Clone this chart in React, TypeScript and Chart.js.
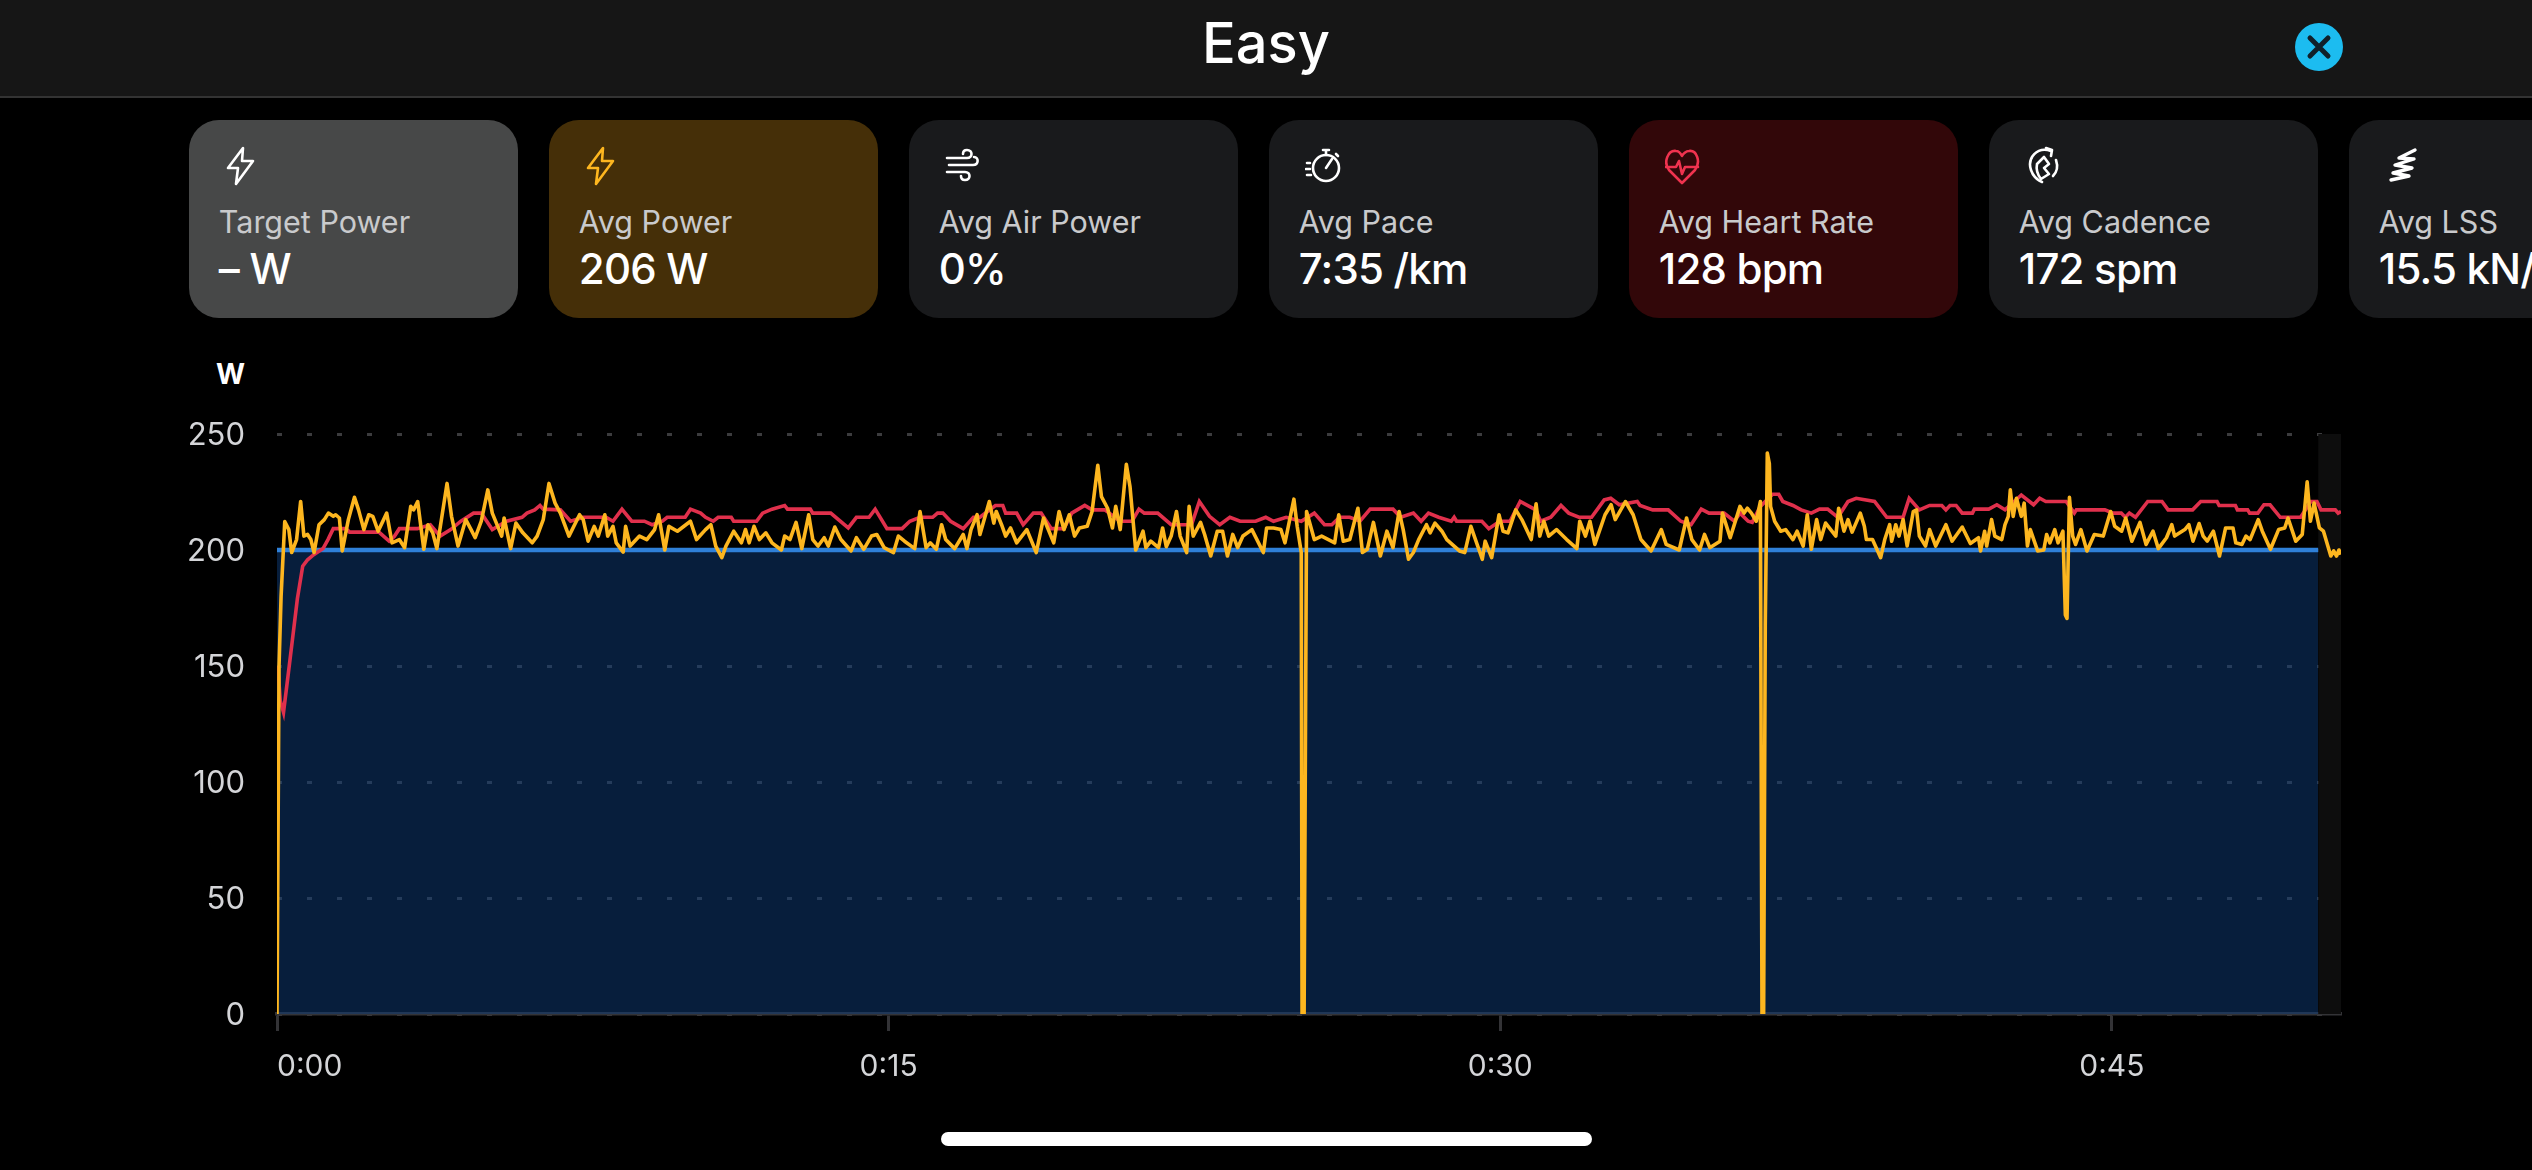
import React, { useEffect, useRef } from "react";
import { Chart, registerables } from "chart.js";

Chart.register(...registerables);

const title = "Easy";
const axisUnit = "W";
const xTickMinutes = [0, 15, 30, 45];
const xMaxMinutes = 50.62;
const yMax = 250;
const yStep = 50;

// [minute, watts]
const powerReadings: number[][] = [
[0,0],[0.05,150],[0.10,180],[0.19,212.3],[0.29,208.8],[0.36,198.9],[0.48,204.5],[0.58,220.9],[0.66,206],[0.75,206.7],[0.83,204.5],[0.91,198.9],[1.03,210.9],[1.16,213.1],[1.26,215.9],[1.38,214.5],[1.44,215.2],[1.53,213.8],[1.60,199.6],[1.75,213.1],[1.90,222.7],[2.00,217.3],[2.13,208.8],[2.25,215.2],[2.35,214.5],[2.48,208.1],[2.69,215.9],[2.82,203.1],[3.00,204.5],[3.13,201],[3.28,218.8],[3.35,217.3],[3.45,220.9],[3.60,200.3],[3.70,210.9],[3.82,207.4],[3.92,200.6],[4.00,209.5],[4.17,228.7],[4.28,214.5],[4.44,201.7],[4.63,213.1],[4.76,208.8],[4.86,205.3],[5.01,212.4],[5.17,225.9],[5.28,215.9],[5.51,206],[5.57,213.8],[5.73,200.6],[5.86,211.6],[6.03,207.4],[6.26,203.1],[6.38,206],[6.53,213.1],[6.67,228.7],[6.82,220.2],[6.95,215.9],[7.16,206],[7.42,215.2],[7.51,213.1],[7.63,203.8],[7.78,210.2],[7.88,206],[8.04,215.2],[8.11,206],[8.24,210.2],[8.32,203.1],[8.49,199.1],[8.55,210.2],[8.66,201.7],[8.89,206],[9.07,204.5],[9.26,208.8],[9.36,215.2],[9.51,200],[9.61,210.2],[9.82,208.1],[10.14,212.4],[10.29,204.5],[10.51,208.8],[10.64,210.9],[10.76,201.7],[10.91,196.7],[11.01,201.7],[11.20,208.1],
[11.39,203.1],[11.49,208.8],[11.58,203.1],[11.70,210.2],[11.83,204.5],[11.99,207.4],[12.14,203.1],[12.37,200],[12.45,206],[12.58,204.5],[12.73,211.9],[12.87,200.6],[13.04,215.2],[13.14,204.5],[13.27,201.7],[13.42,205.3],[13.52,201.7],[13.68,209.9],[13.83,204.5],[14.08,199.6],[14.21,205.3],[14.39,200.3],[14.58,206],[14.71,206.7],[14.89,201],[15.12,198.9],[15.24,206],[15.39,203.8],[15.64,200.6],[15.77,216.6],[15.92,201],[16.02,203.1],[16.17,200.3],[16.30,210.9],[16.40,204.5],[16.62,200.6],[16.83,206.7],[16.92,200.6],[17.02,208.8],[17.17,215.2],
[17.24,206.7],[17.47,220.9],[17.58,211.6],[17.64,216.6],[17.77,210.9],[17.87,206],[17.99,209.5],[18.14,203.1],[18.39,208.8],[18.62,198.9],[18.80,213.8],[19.05,203.1],[19.18,216.6],[19.30,208.8],[19.43,215.2],[19.56,206],[19.68,209.5],[19.87,210.2],[19.99,216.6],[20.13,236.5],[20.22,223],[20.37,218],[20.49,209.5],[20.57,218.8],[20.68,208.8],[20.83,236.9],[20.92,227.3],[21.06,200],[21.24,208.1],[21.31,201],[21.43,203.8],[21.62,201],[21.72,209.5],[21.81,201.4],[21.93,206],[22.06,216.6],[22.15,206],[22.31,198.9],[22.37,218.8],[22.47,206],[22.65,211.9],[22.75,206.7],[22.90,197.4],[23.06,208.1],[23.19,208.1],[23.31,197.4],[23.44,206.7],[23.56,201],[23.69,206],[23.91,208.8],[24.19,198.9],[24.27,209.5],[24.44,209.5],[24.62,208.8],[24.72,203.1],[24.94,221.9],[25.02,210.2],[25.12,198.9],[25.14,0],[25.19,0],[25.25,216.6],[25.44,204.5],[25.62,206],[25.94,203.1],[26.04,215.2],[26.15,203.8],[26.31,204.5],[26.51,218],[26.62,198.9],[26.74,200.3],[26.89,211.9],[27.06,197.4],[27.22,208.1],[27.37,201],[27.52,216.6],[27.62,208.8],[27.75,196],[27.87,198.9],[28.00,204.5],[28.19,210.9],[28.28,207.4],[28.40,211.6],[28.57,208.1],[28.69,204.5],[29.00,199.6],[29.13,198.9],[29.28,210.2],[29.56,196],[29.63,203.8],[29.79,196.7],[29.97,215.2],[30.07,208.1],[30.19,207.4],[30.38,217.3],[30.53,213.1],[30.76,204.5],[30.88,219.9],[30.97,206],[31.07,212.4],[31.19,206],[31.38,208.8],[31.63,204.5],[31.88,200.6],[31.95,212.4],[32.09,206],[32.20,212.4],[32.32,202.4],[32.57,215.2],[32.72,219.5],[32.82,213.1],[33.07,220.9],[33.26,215.2],[33.45,204.5],[33.70,199.6],[33.95,208.8],[34.07,202.4],[34.39,200],[34.57,213.8],[34.70,204.5],[34.89,200],[35.01,206.7],[35.14,201],[35.39,203.8],[35.45,215.9],[35.64,205.3],
[35.88,218.8],[35.98,215.9],[36.06,218],[36.16,215.9],[36.28,212.4],[36.38,220.9],[36.42,0],[36.46,0],[36.50,167.6],[36.55,241.8],[36.60,237.2],[36.63,218.8],[36.73,212.4],[36.88,208.1],[37.00,208.8],[37.18,204.5],[37.28,208.1],[37.43,201.7],[37.53,215.2],[37.63,200.3],[37.76,213.1],[37.86,204.5],[37.98,211.6],[38.23,206],[38.30,218],[38.43,208.1],[38.53,213.1],[38.63,207.7],[38.83,215.9],[38.93,210.2],[38.98,204.5],[39.13,204.5],[39.33,196.7],[39.43,204.5],[39.55,210.9],[39.60,203.8],[39.70,210.9],[39.78,206],[39.88,213.1],[39.98,201.7],[40.13,216.6],[40.21,217.3],[40.28,206],[40.43,201.7],[40.53,208.8],[40.68,201.7],[40.93,210.9],[41.08,203.8],[41.33,209.9],[41.53,202.8],[41.73,205.3],[41.78,199.6],[41.88,208.1],[41.93,201.7],[42.05,213.1],[42.13,206],[42.30,204.5],[42.38,210.9],[42.46,214.5],[42.51,225.9],[42.58,214.5],[42.66,222.3],[42.78,214.5],[42.85,220.2],[42.93,201.7],[43.00,208.8],[43.18,199.6],[43.33,200],[43.40,206.7],[43.48,203.1],[43.60,208.8],[43.68,203.1],[43.80,208.1],[43.86,172],[43.90,170.5],[43.96,222.7],[44.04,206],[44.11,202.4],[44.24,208.8],[44.39,199.6],[44.57,206.7],[44.79,206],[44.97,216.6],[45.07,210.2],[45.24,208.1],[45.34,213.8],[45.49,203.8],[45.69,211.9],[45.84,202.4],[46.01,208.1],[46.14,200.6],[46.34,205.3],[46.47,210.9],[46.54,206],[46.79,208.8],[46.89,210.9],[46.99,203.8],[47.14,211.4],[47.24,206],[47.34,203.8],[47.49,208.1],[47.64,197.4],[47.79,209.5],[47.97,209.5],[48.04,203.1],[48.19,202.4],[48.29,206],[48.39,204.5],[48.59,213.1],[48.69,208.1],[48.89,200.3],[49.09,208.8],[49.24,209.5],[49.32,213.8],[49.51,203.8],[49.67,206.7],[49.79,229.4],[49.87,212.4],[49.96,220.2],[50.09,209.5],[50.19,208.1],[50.37,197.4],[50.44,199.6],[50.51,197.4],[50.57,200],[50.62,198.1],
];

// [minute, value as drawn on the watt axis]
const heartReadings: number[][] = [
[0.02,150],[0.08,135],[0.16,130],[0.3,150],[0.5,179],[0.63,193],[0.75,195.8],[0.90,198],[1.13,200.6],[1.25,204.5],[1.38,209.2],[1.69,209.2],[1.78,207.7],[2.50,207.7],[2.75,203.8],[2.88,205.9],[3.00,209.2],[3.44,209.2],[3.76,210.9],[4.0,206],[4.26,208.8],[4.51,212.4],[4.82,215.9],[5.01,215.9],[5.28,208.8],[5.63,212.4],[6.01,214.1],[6.13,215.9],[6.32,217.3],[6.45,219.2],[6.53,217.6],[6.95,217.3],[7.20,212.4],[7.51,214.1],[8.07,214.1],[8.24,212.4],[8.46,217.6],[8.70,212.4],[9.01,212.4],[9.20,210.9],[9.45,212.4],[9.57,214.1],[10.01,214.1],[10.14,217.6],[10.39,215.9],[10.51,214.1],[10.70,212.4],[10.82,214.1],[11.14,214.1],[11.20,212.4],[11.76,212.4],[11.91,215.9],[12.14,217.6],[12.45,219.2],[12.52,217.6],[13.08,217.6],[13.14,215.9],[13.58,215.9],[14.01,209.5],[14.21,214.1],[14.52,214.1],[14.67,217.6],[14.96,209.2],[15.33,209.2],[15.52,212.4],[15.77,214.1],[16.08,214.1],[16.20,215.9],[16.33,215.9],[16.52,212.4],[16.83,209.2],[17.08,214.1],
[17.24,214.1],[17.62,219.2],[17.80,219.2],[17.87,215.9],[18.14,215.9],[18.30,210.9],[18.55,215.9],[18.74,215.9],[18.99,209.2],[19.30,209.2],[19.49,215.9],[19.81,219.2],[19.99,217.3],[20.30,217.3],[20.68,212.4],[20.97,212.4],[21.14,217.6],[21.27,215.9],[21.60,215.9],[21.93,210.9],[22.43,210.9],[22.62,220.9],[22.87,214.5],[23.12,210.9],[23.37,214.1],[23.62,212.4],[24.00,212.4],[24.25,214.1],[24.44,212.4],[24.75,214.1],[25.12,212.4],[25.44,215.9],[25.69,210.9],[25.87,210.9],[26.06,214.1],[26.31,214.1],[26.56,212.4],[26.81,217.6],[27.37,217.6],[27.56,214.1],[27.87,215.9],[28.06,212.4],[28.24,215.9],[28.49,214.1],[28.80,212.4],[28.87,214.1],[28.93,212.4],[29.55,212.4],[29.72,209.2],[29.99,212.4],[30.24,212.4],[30.49,220.9],[30.87,217.3],[30.99,212.4],[31.24,214.1],[31.49,219.2],[31.68,215.9],[31.93,214.1],[32.24,214.1],[32.55,221.6],[32.71,222.3],[32.92,219.5],[33.36,220.9],[33.43,219.2],[33.74,217.3],[34.12,217.3],[34.43,212.4],[34.68,210.9],[34.93,217.6],[35.12,215.9],[35.49,215.9],[35.74,212.4],
[35.88,215.9],[36.08,212.4],[36.18,211.9],[36.38,218.8],[36.68,224],[36.83,224],[36.93,220.9],[37.18,219.2],[37.38,217.3],[37.63,215.9],[37.83,217.6],[38.03,217.6],[38.28,214.1],[38.53,220.9],[38.73,222.3],[39.18,220.9],[39.48,214.1],[39.88,214.1],[40.03,222.3],[40.28,217.3],[40.53,219.2],[40.83,219.2],[40.93,217.3],[41.03,219.2],[41.18,219.2],[41.33,215.9],[41.58,215.9],[41.63,217.6],[41.98,217.6],[42.18,219.5],[42.38,217.3],[42.78,223.7],[43.08,219.5],[43.23,222.3],[43.38,220.9],[43.88,220.9],[44.08,215.9],[44.13,217.3],[44.83,217.3],[45.03,215.9],[45.23,215.9],[45.33,214.1],[45.43,215.9],[45.58,214.1],[45.88,220.9],[46.23,220.9],[46.38,217.3],[46.98,217.3],[47.18,220.9],[47.58,220.9],[47.63,219.2],[48.03,219.2],[48.08,217.3],[48.33,217.3],[48.38,215.9],[48.58,215.9],[48.73,219.5],[48.88,219.5],[49.13,214.1],[49.63,214.1],[49.88,220.9],[50.03,220.9],[50.13,217.3],[50.48,217.3],[50.55,215.9],[50.62,216.6],
];

const targetReadings: number[][] = [[0, 200], [50.06, 200]];
const afterWorkoutReadings: number[][] = [[50.06, 250], [50.62, 250]];

const cardLabels = ["Target Power", "Avg Power", "Avg Air Power", "Avg Pace", "Avg Heart Rate", "Avg Cadence", "Avg LSS"];
const cardValues = ["– W", "206 W", "0%", "7:35 /km", "128 bpm", "172 spm", "15.5 kN/m"];
const cardFills = ["#474848", "#452f08", "#191a1c", "#191a1c", "#320709", "#191a1c", "#191a1c"];
const cardIconInk = ["#ffffff", "#fdb61f", "#ffffff", "#ffffff", "#f0334f", "#ffffff", "#ffffff"];

const FONT = "Inter, 'Noto Sans', sans-serif";
const toPoints = (rows: number[][]) => rows.map(([x, y]) => ({ x, y }));
const fmt = (m: number) => `0:${String(m).padStart(2, "0")}`;

function Icon({ index, ink }: { index: number; ink: string }) {
  const p = { fill: "none", stroke: ink, strokeWidth: 2.6, strokeLinecap: "round" as const, strokeLinejoin: "round" as const };
  const bolt = <path {...p} d="M18 2 L3 22 H13 L11 38 L28 15 H17 Z" />;
  const shapes = [
    bolt,
    bolt,
    <g {...p}>
      <path d="M2 12 H22 C28 12 28 4 22 4 C19 4 18 6 18 8" />
      <path d="M4 19 H28 C34 19 34 11 29 11" />
      <path d="M2 26 H20 C26 26 26 34 20 34 C17 34 16 32 16 30" />
    </g>,
    <g {...p}>
      <circle cx="21" cy="22" r="13" />
      <path d="M21 5 V9 M18 4 H24 M21 22 L27 13 M31 8 L33 10" />
      <path d="M2 17 H5 M1 23 H5 M2 29 H6" />
    </g>,
    <g {...p}>
      <path d="M17 37 L4 24 C-2 16 3 4 11 5 C14 5 16 8 17 10 C18 8 21 5 24 5 C32 4 36 16 30 24 Z" />
      <path d="M1 21 H11 L14 15 L17 28 L20 21 H33" />
    </g>,
    <g {...p}>
      <path d="M26 5 C12 0 2 12 6 24 C8 30 12 34 17 36" />
      <path d="M26 10 L27 4 L21 2" />
      <path d="M31 14 C33 20 32 26 28 30" />
      <path d="M12 18 L19 11 L24 18 L19 22 L24 28 L16 33 C12 28 11 23 12 18 Z" />
    </g>,
    <g {...p} strokeWidth={3.4}>
      <path d="M6 34 L24 30 L8 27 L27 22 L10 19 L29 13 L14 12 L30 4" />
    </g>,
  ];
  return (
    <svg width={36} height={40} viewBox="0 0 36 40" style={{ position: "absolute", left: 36, top: 26 }}>
      {shapes[index === 6 ? 6 : index]}
    </svg>
  );
}

export default function App() {
  const ref = useRef<HTMLCanvasElement>(null);

  useEffect(() => {
    const chart = new Chart(ref.current!, {
      type: "line",
      data: {
        datasets: [
          { label: "Power", data: toPoints(powerReadings), borderColor: "#fdb61f", borderWidth: 3.6, pointRadius: 0, tension: 0, order: 1, borderJoinStyle: "round" },
          { label: "Heart Rate", data: toPoints(heartReadings), borderColor: "#e0304c", borderWidth: 3.6, pointRadius: 0, tension: 0, order: 2 },
          { label: "Target", data: toPoints(targetReadings), borderColor: "#2f80d8", borderWidth: 4.5, pointRadius: 0, tension: 0, fill: "origin", backgroundColor: "rgba(13,60,120,0.5)", order: 3 },
          { label: "After", data: toPoints(afterWorkoutReadings), borderWidth: 0, pointRadius: 0, tension: 0, fill: "origin", backgroundColor: "#0d0d0d", order: 4 },
        ],
      },
      options: {
        responsive: false,
        animation: false,
        layout: { padding: { top: 434, right: 191, left: 0, bottom: 0 } },
        plugins: { legend: { display: false }, tooltip: { enabled: false } },
        scales: {
          x: {
            type: "linear",
            min: 0,
            max: xMaxMinutes,
            afterFit: (s: any) => { s.height = 156; },
            afterBuildTicks: (s: any) => {
              s.ticks = [...xTickMinutes, xMaxMinutes].map((value) => ({ value }));
            },
            border: { display: true, color: "#333336", width: 3.5 },
            grid: {
              drawOnChartArea: false,
              drawTicks: true,
              tickLength: 17,
              tickWidth: 3,
              tickColor: (c: any) => (c.tick && c.tick.value !== xMaxMinutes ? "#333336" : "rgba(0,0,0,0)"),
            },
            ticks: {
              autoSkip: false,
              maxRotation: 0,
              align: "inner",
              color: "#d4d5d8",
              padding: 18,
              font: { family: FONT, size: 30 },
              callback: (v: any) => (xTickMinutes.includes(v) ? fmt(v) : ""),
            },
          },
          y: {
            min: 0,
            max: yMax,
            afterFit: (s: any) => { s.width = 277; },
            border: { display: false, dash: [5, 25] },
            grid: { color: "#3c3c3e", lineWidth: 3, drawTicks: false },
            ticks: {
              stepSize: yStep,
              color: "#d4d5d8",
              padding: 32,
              labelOffset: 2,
              font: { family: FONT, size: 31 },
            },
          },
        },
      },
    } as any);
    return () => chart.destroy();
  }, []);

  return (
    <div style={{ position: "fixed", left: 0, top: 0, width: 2532, height: 1170, background: "#000", overflow: "hidden", fontFamily: FONT, color: "#fff" }}>
      <div style={{ position: "absolute", left: 0, top: 0, width: 2532, height: 96, background: "#161616", borderBottom: "2px solid #333" }} />
      <div style={{ position: "absolute", left: 0, width: 2532, top: 5, textAlign: "center", fontSize: 56, lineHeight: "76px", fontWeight: 500 }}>{title}</div>
      <svg width={50} height={50} style={{ position: "absolute", left: 2294, top: 22 }}>
        <circle cx={25} cy={25} r={24} fill="#1cbcf0" />
        <path d="M16 16 L34 34 M34 16 L16 34" stroke="#10202a" strokeWidth={5} strokeLinecap="round" />
      </svg>
      {cardLabels.map((label, i) => (
        <div key={label} style={{ position: "absolute", left: 188.8 + i * 360, top: 120, width: 329.5, height: 198, borderRadius: 30, background: cardFills[i] }}>
          <Icon index={i} ink={cardIconInk[i]} />
          <div style={{ position: "absolute", left: 30, top: 84, fontSize: 30.5, lineHeight: "36px", color: "#c9cacc", whiteSpace: "nowrap" }}>{label}</div>
          <div style={{ position: "absolute", left: 30, top: 121, fontSize: 42, lineHeight: "56px", fontWeight: 500, letterSpacing: -0.8, whiteSpace: "nowrap" }}>{cardValues[i]}</div>
        </div>
      ))}
      <div style={{ position: "absolute", left: 216, top: 357, fontSize: 28, lineHeight: "34px", fontWeight: 700 }}>{axisUnit}</div>
      <canvas ref={ref} width={2532} height={1170} style={{ position: "absolute", left: 0, top: 0, display: "block" }} />
      <div style={{ position: "absolute", left: 941, top: 1132, width: 651, height: 14, borderRadius: 7, background: "#fff" }} />
    </div>
  );
}
